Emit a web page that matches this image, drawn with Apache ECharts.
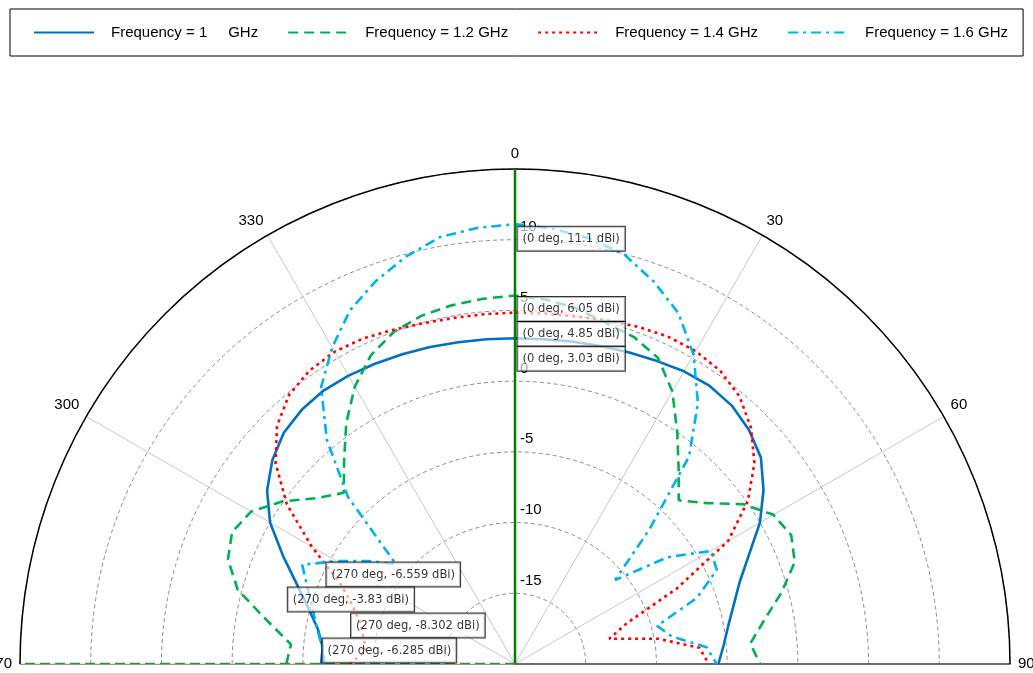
<!DOCTYPE html>
<html><head><meta charset="utf-8">
<script src="https://cdn.jsdelivr.net/npm/echarts@6/dist/echarts.min.js"></script>
<style>html,body{margin:0;padding:0;background:#fff}#c{width:1033px;height:673px}</style>
</head><body><div id="c"></div>
<script>
// angle (deg), negative = 270..355
const angles = [-90,-85,-80,-75,-70,-65,-60,-55,-50,-45,-40,-35,-30,-25,-20,-15,-10,-5,0,5,10,15,20,25,30,35,40,45,50,55,60,65,70,75,80,85,90];
const angleTickValues = [-90,-60,-30,0,30,60,90];
const angleTickLabels = ['270','300','330','0','30','60','90'];
const radialTickLabels = [-15,-10,-5,0,5,10];
const names = ['Frequency = 1     GHz','Frequency = 1.2 GHz','Frequency = 1.4 GHz','Frequency = 1.6 GHz'];
const gain10 = [-6.285,-6.35,-5.85,-4.9,-3.6,-1.9,0.0,1.4,2.4,3.12,3.46,3.6,3.54,3.42,3.3,3.2,3.1,3.05,3.03,3.05,3.15,3.28,3.45,3.65,3.9,4.0,3.85,3.4,2.7,1.45,0.0,-1.75,-3.1,-4.0,-4.7,-5.2,-5.62];
const gain12 = [-3.83,-4.1,-2.17,0.3,1.6,2.07,1.55,0.05,-1.75,-2.88,-1.2,0.8,2.65,4.1,5.0,5.5,5.75,5.92,6.05,5.85,5.5,4.95,4.6,3.9,2.25,0.0,-2.0,-3.63,-2.3,-0.3,1.1,1.55,1.05,-0.5,-2.1,-3.3,-2.67];
const gain14 = [-8.302,-9.4,-9.13,-8.65,-7.75,-6.3,-3.4,-0.3,2.1,3.8,4.85,5.33,5.5,5.4,5.15,4.95,4.85,4.83,4.85,4.87,4.95,5.15,5.38,5.55,5.55,5.3,4.7,3.6,2.1,0.1,-2.6,-7.4,-11.6,-13.1,-9.7,-6.9,-6.3];
const gain16 = [-6.559,-6.3,-5.8,-5.2,-4.4,-3.4,-5.45,-7.3,-9.0,-3.3,0.7,3.9,5.85,7.6,8.8,9.82,10.64,10.95,11.1,10.9,10.55,9.95,8.75,7.36,5.25,2.55,-0.85,-6.6,-10.76,-6.85,-4.0,-4.26,-6.3,-9.6,-8.75,-6.4,-5.74];
const markerAngles = [0, -90];
const radiusRange = [-20, 15];

const colors = ['#0070C0','#00B050','#FF0000','#00B0F0'];
const dashes = ['solid',[10,6],[3,4],[10,5,3,5]];
const gains = [gain10, gain12, gain14, gain16];
const FONT = 'Liberation Sans';

function pairs(vals){ return angles.map((a,i)=>[vals[i], a]); }
function angleLabel(a){ const i = angleTickValues.indexOf(a); return i>=0 ? angleTickLabels[i] : String(a<0?a+360:a); }

const series = gains.map((g,k)=>({
  name: names[k], type:'line', coordinateSystem:'polar', polarIndex:0,
  data: pairs(g), symbol:'none', smooth:false, z: 3,
  lineStyle:{color:colors[k], width:2.6, type:dashes[k]},
  itemStyle:{color:colors[k]}
}));

// marker cursor lines
series.push({type:'line', coordinateSystem:'polar', polarIndex:0, silent:true, symbol:'none', z:4,
  data: radiusRange.map(r=>[r, markerAngles[0]]), lineStyle:{color:'#008000', width:2.5, type:'solid'}});
series.push({type:'line', coordinateSystem:'polar', polarIndex:0, silent:true, symbol:'none', z:4,
  data: radiusRange.map(r=>[r, markerAngles[1]]), lineStyle:{color:'#1a9e3a', width:2.5, type:[10,5]}});

// marker labels (order: 1.6, 1.2, 1.4, 1.0)
const order = [3,1,2,0];
const offs0 = [[3,3],[3,2],[3,10],[3,9]];
const offs270 = [[2,-101],[2,-76],[2,-50],[2,-25]];
const markerData = [];
markerAngles.forEach((ang,mi)=>{
  const idx = angles.indexOf(ang);
  order.forEach((k,j)=>{
    markerData.push({value:[gains[k][idx], ang], label:{position:(mi===0?offs0:offs270)[j]}});
  });
});
series.push({type:'scatter', coordinateSystem:'polar', polarIndex:0, silent:true, z:10,
  symbolSize:1, itemStyle:{color:'rgba(0,0,0,0)'}, data: markerData,
  label:{show:true, formatter:p=>'('+angleLabel(p.value[1])+' deg, '+p.value[0]+' dBi)',
    fontFamily:'DejaVu Sans', fontSize:11.6, color:'#000', backgroundColor:'rgba(255,255,255,0.82)',
    borderColor:'#000', borderWidth:1, padding:[6,5,6,5], align:'left', verticalAlign:'top'}
});

const chart = echarts.init(document.getElementById('c'), null, {renderer:'canvas'});
chart.setOption({
  backgroundColor:'#fff',
  animation:false,
  color: colors,
  legend:{
    left:10, top:9, orient:'horizontal', itemWidth:60, itemHeight:14, itemGap:29,
    padding:[16,15,16,23], borderColor:'#000', borderWidth:1,
    itemStyle:{opacity:0},
    data: names,
    textStyle:{fontFamily:FONT, fontSize:15, color:'#000', padding:[0,0,0,12]}
  },
  polar:[
    {center:[515,664], radius:[0,495]},
    {center:[515,664], radius:[0,495]},
    {center:[515,664], radius:[0,495]}
  ],
  angleAxis:[
    {polarIndex:0, type:'value', min:-90, max:90, interval:30, startAngle:180, endAngle:0, clockwise:true,
     axisLine:{show:true, lineStyle:{color:'#000', width:1.5}}, axisTick:{show:false},
     axisLabel:{show:true, formatter:v=>angleLabel(v), fontFamily:FONT, fontSize:15, color:'#000', margin:8},
     splitLine:{show:true, lineStyle:{color:'#c8c8c8', width:1}}},
    {polarIndex:1, type:'value', min:0, max:360, startAngle:90, show:false},
    {polarIndex:2, type:'value', min:0, max:360, startAngle:0, show:false}
  ],
  radiusAxis:[
    {polarIndex:0, type:'value', min:radiusRange[0], max:radiusRange[1], interval:5,
     axisLine:{show:true, lineStyle:{color:'#999', width:1}}, axisTick:{show:false}, axisLabel:{show:false},
     splitLine:{show:true, lineStyle:{color:'#8c8c8c', width:1, type:[4,3]}}},
    {polarIndex:1, type:'value', min:radiusRange[0], max:radiusRange[1], interval:5,
     axisLine:{show:false}, axisTick:{show:false}, splitLine:{show:false},
     axisLabel:{show:true, formatter:v=>radialTickLabels.indexOf(v)>=0?String(v):'', fontFamily:FONT, fontSize:15, color:'#000',
       margin:-5, align:'left', verticalAlign:'bottom', padding:[0,0,5,0]}},
    {polarIndex:2, type:'value', min:radiusRange[0], max:radiusRange[1], interval:5,
     axisLine:{show:true, lineStyle:{color:'#444', width:1.5}}, axisTick:{show:false}, axisLabel:{show:false}, splitLine:{show:false}}
  ],
  series: series
});
</script></body></html>
